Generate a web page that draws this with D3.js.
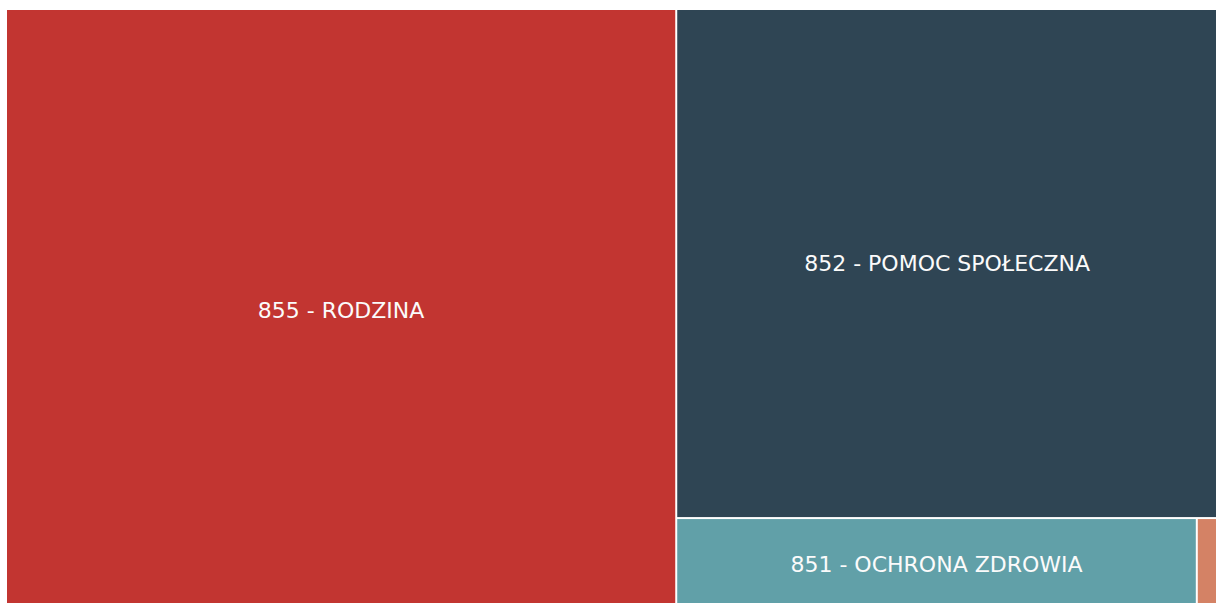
<!DOCTYPE html>
<html>
<head>
<meta charset="utf-8">
<script src="https://cdn.jsdelivr.net/npm/d3@7/dist/d3.min.js"></script>
<style>
  html, body { margin: 0; padding: 0; background: #fff; }
  svg { display: block; }
</style>
</head>
<body>
<svg id="chart" width="1216" height="603"></svg>
<script>
// Budget sections (dział) and their share of spending
const sections = [
  "855 - RODZINA",
  "852 - POMOC SPOŁECZNA",
  "851 - OCHRONA ZDROWIA",
  "853 - POZOSTAŁE ZADANIA W ZAKRESIE POLITYKI SPOŁECZNEJ"
];
const amounts = [55.3, 37.8, 6.63, 0.27];
const palette = ["#c23531", "#2f4554", "#61a0a8", "#d48265"];

const svg = d3.select("#chart");
const box = { left: 7, top: 10, right: 1217, bottom: 610 };

const root = d3.hierarchy({
  children: sections.map((name, i) => ({ name, value: amounts[i], color: palette[i] }))
}).sum(d => d.value || 0).sort((a, b) => b.value - a.value);

d3.treemap()
  .tile(d3.treemapSquarify)
  .size([box.right - box.left, box.bottom - box.top])
  .paddingInner(2)(root);

const g = svg.append("g").attr("transform", `translate(${box.left},${box.top})`);

const cell = g.selectAll("g.cell")
  .data(root.leaves())
  .join("g")
  .attr("class", "cell")
  .attr("transform", d => `translate(${d.x0},${d.y0})`);

cell.append("rect")
  .attr("width", d => d.x1 - d.x0)
  .attr("height", d => d.y1 - d.y0)
  .attr("fill", d => d.data.color);

// Centred labels, dropped when the cell is too narrow to hold them
cell.append("text")
  .attr("x", d => (d.x1 - d.x0) / 2)
  .attr("y", d => (d.y1 - d.y0) / 2)
  .attr("text-anchor", "middle")
  .attr("dominant-baseline", "central")
  .attr("fill", "#fbfbfb")
  .style("font-family", "'DejaVu Sans', sans-serif")
  .style("font-size", "22px")
  .text(d => d.data.name)
  .each(function (d) {
    const w = d.x1 - d.x0;
    if (this.getComputedTextLength() > w - 10) d3.select(this).remove();
  });
</script>
</body>
</html>
